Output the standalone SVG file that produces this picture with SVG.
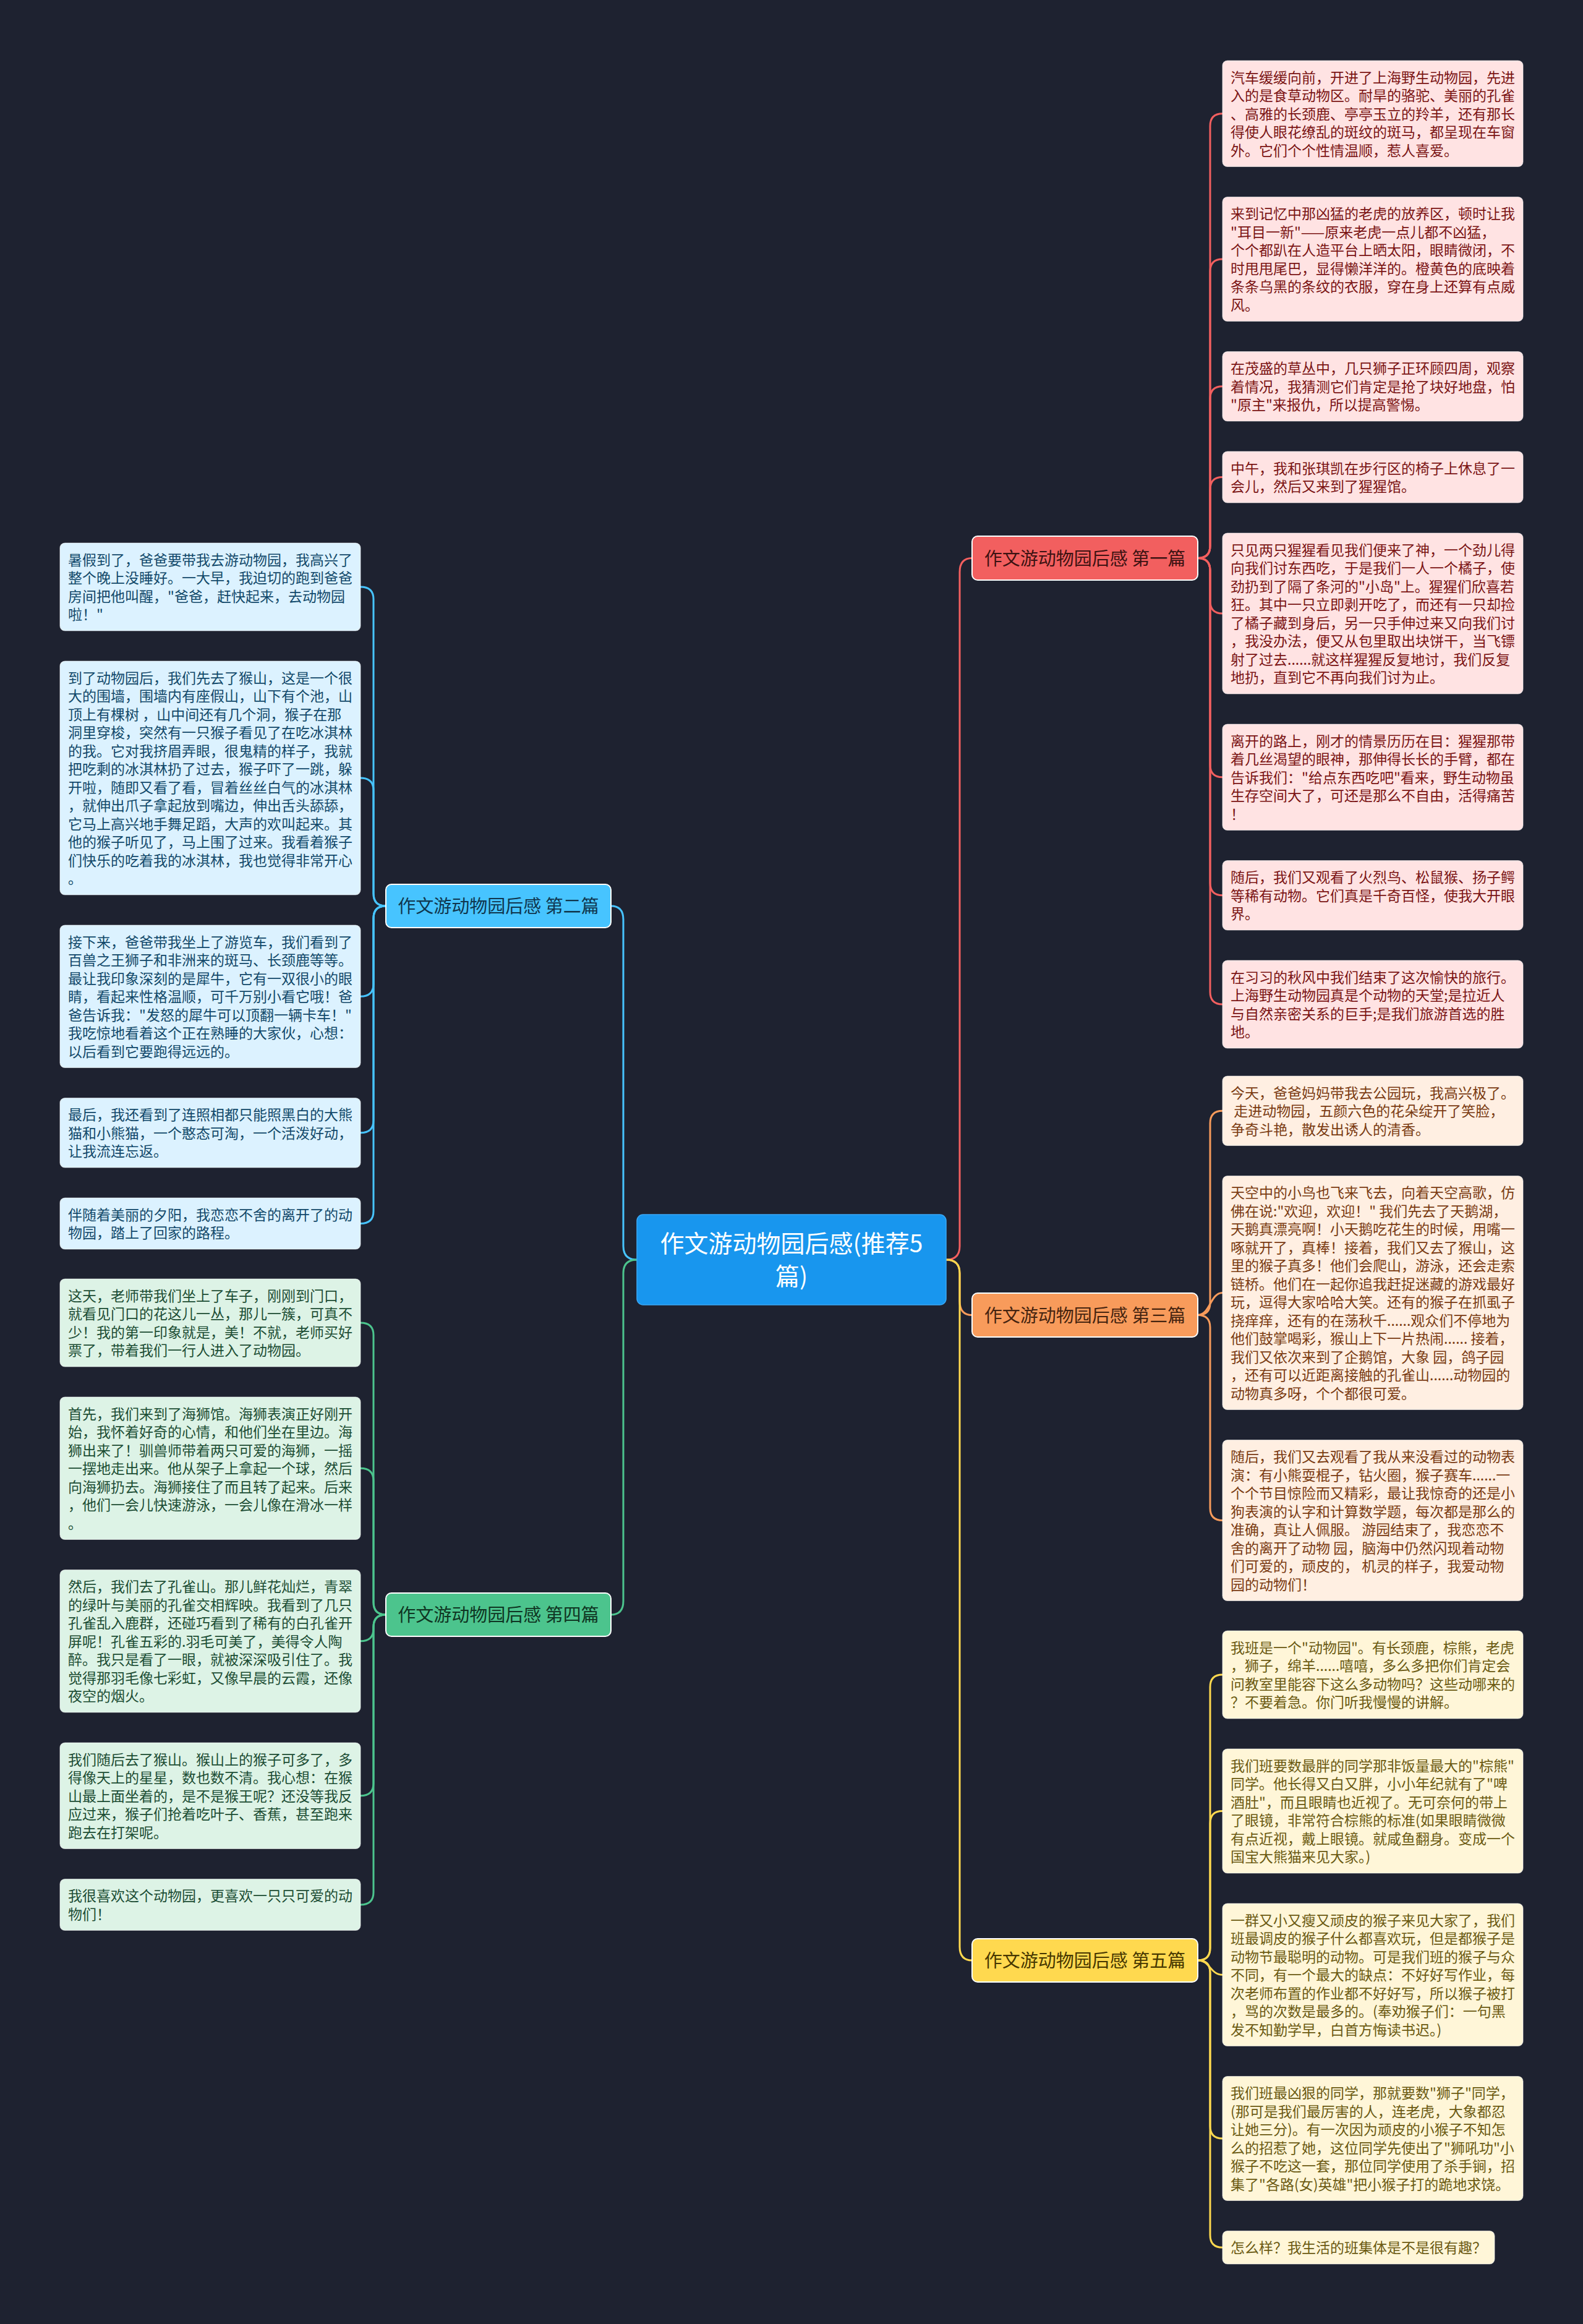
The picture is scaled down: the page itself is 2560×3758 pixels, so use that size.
<svg xmlns="http://www.w3.org/2000/svg" width="2560" height="3758" viewBox="0 0 2560 3758">
<style>
text{font-family:"Noto Sans CJK SC","Noto Sans",sans-serif;white-space:pre}
.lf{font-size:23px}
.leaf{stroke:#ffffff;stroke-opacity:.55;stroke-width:1.2}
.br{stroke:#ffffff;stroke-width:2}
.bt{font-size:29px;text-anchor:middle}
.c{fill:none;stroke-width:3;stroke-linecap:round}
.red{stroke:#f25f5f}.org{stroke:#f89b5b}.yel{stroke:#ffd94f}.blu{stroke:#47c4ff}.grn{stroke:#4cc48d}
.rf{fill:#ffe3e3}.rt{fill:#7b1414}
.of{fill:#ffefe2}.ot{fill:#7a3b12}
.yf{fill:#fff6d8}.yt{fill:#6b5a12}
.bf{fill:#dcf2ff}.btx{fill:#12496a}
.gf{fill:#ddf3e6}.gt{fill:#1c4d34}
</style>
<rect width="2560" height="3758" fill="#1e2230"/>
<g id="connectors">
<path class="c red" d="M1530 2037 Q1552 2037 1552 2015 L1552 925 Q1552 902.5 1572 902.5"/>
<path class="c org" d="M1530 2037 Q1552 2037 1552 2059 L1552 2104 Q1552 2126.5 1572 2126.5"/>
<path class="c yel" d="M1530 2037 Q1552 2037 1552 2059 L1552 3148 Q1552 3170 1572 3170"/>
<path class="c blu" d="M1030 2037 Q1008 2037 1008 2015 L1008 1487 Q1008 1465 988 1465"/>
<path class="c grn" d="M1030 2037 Q1008 2037 1008 2059 L1008 2589 Q1008 2611 988 2611"/>
<path class="c red" d="M1937 902.5 Q1957 902.5 1957 882.5 L1957 203.75 Q1957 183.75 1977 183.75"/>
<path class="c red" d="M1937 902.5 Q1957 902.5 1957 882.5 L1957 439 Q1957 419 1977 419"/>
<path class="c red" d="M1937 902.5 Q1957 902.5 1957 882.5 L1957 644.75 Q1957 624.75 1977 624.75"/>
<path class="c red" d="M1937 902.5 Q1957 902.5 1957 882.5 L1957 791.5 Q1957 771.5 1977 771.5"/>
<path class="c red" d="M1937 902.5 Q1957 902.5 1957 922.5 L1957 972 Q1957 992 1977 992"/>
<path class="c red" d="M1937 902.5 Q1957 902.5 1957 922.5 L1957 1236.75 Q1957 1256.75 1977 1256.75"/>
<path class="c red" d="M1937 902.5 Q1957 902.5 1957 922.5 L1957 1427.75 Q1957 1447.75 1977 1447.75"/>
<path class="c red" d="M1937 902.5 Q1957 902.5 1957 922.5 L1957 1604 Q1957 1624 1977 1624"/>
<path class="c org" d="M1937 2126.5 Q1957 2126.5 1957 2106.5 L1957 1816.25 Q1957 1796.25 1977 1796.25"/>
<path class="c org" d="M1937 2126.5 C1957 2126.5 1957 2090.5 1977 2090.5"/>
<path class="c org" d="M1937 2126.5 Q1957 2126.5 1957 2146.5 L1957 2438.5 Q1957 2458.5 1977 2458.5"/>
<path class="c yel" d="M1937 3170 Q1957 3170 1957 3150 L1957 2728 Q1957 2708 1977 2708"/>
<path class="c yel" d="M1937 3170 Q1957 3170 1957 3150 L1957 2948.5 Q1957 2928.5 1977 2928.5"/>
<path class="c yel" d="M1937 3170 C1957 3170 1957 3193.25 1977 3193.25"/>
<path class="c yel" d="M1937 3170 Q1957 3170 1957 3190 L1957 3438 Q1957 3458 1977 3458"/>
<path class="c yel" d="M1937 3170 Q1957 3170 1957 3190 L1957 3614.25 Q1957 3634.25 1977 3634.25"/>
<path class="c blu" d="M624 1465 Q604 1465 604 1445 L604 969 Q604 949 583 949"/>
<path class="c blu" d="M624 1465 Q604 1465 604 1445 L604 1278 Q604 1258 583 1258"/>
<path class="c blu" d="M624 1465 Q604 1465 604 1485 L604 1591.25 Q604 1611.25 583 1611.25"/>
<path class="c blu" d="M624 1465 Q604 1465 604 1485 L604 1811.75 Q604 1831.75 583 1831.75"/>
<path class="c blu" d="M624 1465 Q604 1465 604 1485 L604 1958.5 Q604 1978.5 583 1978.5"/>
<path class="c grn" d="M624 2611 Q604 2611 604 2591 L604 2159 Q604 2139 583 2139"/>
<path class="c grn" d="M624 2611 Q604 2611 604 2591 L604 2394.25 Q604 2374.25 583 2374.25"/>
<path class="c grn" d="M624 2611 Q604 2611 604 2631 L604 2633.75 Q604 2653.75 583 2653.75"/>
<path class="c grn" d="M624 2611 Q604 2611 604 2631 L604 2883.75 Q604 2903.75 583 2903.75"/>
<path class="c grn" d="M624 2611 Q604 2611 604 2631 L604 3060 Q604 3080 583 3080"/>
</g>
<g id="center">
<rect x="1030" y="1964" width="500" height="146" rx="10" fill="#1896ee" stroke="#3aa8f5" stroke-width="1.5"/>
<text x="1280" y="2025" font-size="39" fill="#ffffff" text-anchor="middle"><tspan x="1280">作文游动物园后感(推荐5</tspan><tspan x="1280" dy="53">篇)</tspan></text>
</g>
<g id="b1"><rect class="br" x="1572" y="867" width="365" height="71" rx="9" fill="#f25f5f"/><text class="bt" x="1754.5" y="913.5" fill="#3d1212">作文游动物园后感 第一篇</text></g>
<g id="b3"><rect class="br" x="1572" y="2091" width="365" height="71" rx="9" fill="#f89b5b"/><text class="bt" x="1754.5" y="2137.5" fill="#452410">作文游动物园后感 第三篇</text></g>
<g id="b5"><rect class="br" x="1572" y="3135" width="365" height="70" rx="9" fill="#ffd94f"/><text class="bt" x="1754.5" y="3181" fill="#463700">作文游动物园后感 第五篇</text></g>
<g id="b2"><rect class="br" x="624" y="1430" width="364" height="70" rx="9" fill="#47c4ff"/><text class="bt" x="806" y="1476" fill="#10364d">作文游动物园后感 第二篇</text></g>
<g id="b4"><rect class="br" x="624" y="2576" width="364" height="70" rx="9" fill="#4cc48d"/><text class="bt" x="806" y="2622" fill="#0f3522">作文游动物园后感 第四篇</text></g>

<g id="r1"><rect class="leaf rf" x="1977" y="98" width="486" height="171.5" rx="8"/><text class="lf rt" x="1990" y="133.5"><tspan x="1990">汽车缓缓向前，开进了上海野生动物园，先进</tspan><tspan x="1990" dy="29.5">入的是食草动物区。耐旱的骆驼、美丽的孔雀</tspan><tspan x="1990" dy="29.5">、高雅的长颈鹿、亭亭玉立的羚羊，还有那长</tspan><tspan x="1990" dy="29.5">得使人眼花缭乱的斑纹的斑马，都呈现在车窗</tspan><tspan x="1990" dy="29.5">外。它们个个性情温顺，惹人喜爱。</tspan></text></g>
<g id="r2"><rect class="leaf rf" x="1977" y="318.5" width="486" height="201" rx="8"/><text class="lf rt" x="1990" y="354"><tspan x="1990">来到记忆中那凶猛的老虎的放养区，顿时让我</tspan><tspan x="1990" dy="29.5">"耳目一新"——原来老虎一点儿都不凶猛，</tspan><tspan x="1990" dy="29.5">个个都趴在人造平台上晒太阳，眼睛微闭，不</tspan><tspan x="1990" dy="29.5">时甩甩尾巴，显得懒洋洋的。橙黄色的底映着</tspan><tspan x="1990" dy="29.5">条条乌黑的条纹的衣服，穿在身上还算有点威</tspan><tspan x="1990" dy="29.5">风。</tspan></text></g>
<g id="r3"><rect class="leaf rf" x="1977" y="568.5" width="486" height="112.5" rx="8"/><text class="lf rt" x="1990" y="604"><tspan x="1990">在茂盛的草丛中，几只狮子正环顾四周，观察</tspan><tspan x="1990" dy="29.5">着情况，我猜测它们肯定是抢了块好地盘，怕</tspan><tspan x="1990" dy="29.5">"原主"来报仇，所以提高警惕。</tspan></text></g>
<g id="r4"><rect class="leaf rf" x="1977" y="730" width="486" height="83" rx="8"/><text class="lf rt" x="1990" y="765.5"><tspan x="1990">中午，我和张琪凯在步行区的椅子上休息了一</tspan><tspan x="1990" dy="29.5">会儿，然后又来到了猩猩馆。</tspan></text></g>
<g id="r5"><rect class="leaf rf" x="1977" y="862" width="486" height="260" rx="8"/><text class="lf rt" x="1990" y="897.5"><tspan x="1990">只见两只猩猩看见我们便来了神，一个劲儿得</tspan><tspan x="1990" dy="29.5">向我们讨东西吃，于是我们一人一个橘子，使</tspan><tspan x="1990" dy="29.5">劲扔到了隔了条河的"小岛"上。猩猩们欣喜若</tspan><tspan x="1990" dy="29.5">狂。其中一只立即剥开吃了，而还有一只却捡</tspan><tspan x="1990" dy="29.5">了橘子藏到身后，另一只手伸过来又向我们讨</tspan><tspan x="1990" dy="29.5">，我没办法，便又从包里取出块饼干，当飞镖</tspan><tspan x="1990" dy="29.5">射了过去......就这样猩猩反复地讨，我们反复</tspan><tspan x="1990" dy="29.5">地扔，直到它不再向我们讨为止。</tspan></text></g>
<g id="r6"><rect class="leaf rf" x="1977" y="1171" width="486" height="171.5" rx="8"/><text class="lf rt" x="1990" y="1206.5"><tspan x="1990">离开的路上，刚才的情景历历在目：猩猩那带</tspan><tspan x="1990" dy="29.5">着几丝渴望的眼神，那伸得长长的手臂，都在</tspan><tspan x="1990" dy="29.5">告诉我们："给点东西吃吧"看来，野生动物虽</tspan><tspan x="1990" dy="29.5">生存空间大了，可还是那么不自由，活得痛苦</tspan><tspan x="1990" dy="29.5">！</tspan></text></g>
<g id="r7"><rect class="leaf rf" x="1977" y="1391.5" width="486" height="112.5" rx="8"/><text class="lf rt" x="1990" y="1427"><tspan x="1990">随后，我们又观看了火烈鸟、松鼠猴、扬子鳄</tspan><tspan x="1990" dy="29.5">等稀有动物。它们真是千奇百怪，使我大开眼</tspan><tspan x="1990" dy="29.5">界。</tspan></text></g>
<g id="r8"><rect class="leaf rf" x="1977" y="1553" width="486" height="142" rx="8"/><text class="lf rt" x="1990" y="1588.5"><tspan x="1990">在习习的秋风中我们结束了这次愉快的旅行。</tspan><tspan x="1990" dy="29.5">上海野生动物园真是个动物的天堂;是拉近人</tspan><tspan x="1990" dy="29.5">与自然亲密关系的巨手;是我们旅游首选的胜</tspan><tspan x="1990" dy="29.5">地。</tspan></text></g>

<g id="o1"><rect class="leaf of" x="1977" y="1740" width="486" height="112.5" rx="8"/><text class="lf ot" x="1990" y="1775.5"><tspan x="1990">今天，爸爸妈妈带我去公园玩，我高兴极了。</tspan><tspan x="1990" dy="29.5"> 走进动物园，五颜六色的花朵绽开了笑脸，</tspan><tspan x="1990" dy="29.5">争奇斗艳，散发出诱人的清香。</tspan></text></g>
<g id="o2"><rect class="leaf of" x="1977" y="1901.5" width="486" height="378" rx="8"/><text class="lf ot" x="1990" y="1937"><tspan x="1990">天空中的小鸟也飞来飞去，向着天空高歌，仿</tspan><tspan x="1990" dy="29.5">佛在说:"欢迎，欢迎！" 我们先去了天鹅湖，</tspan><tspan x="1990" dy="29.5">天鹅真漂亮啊！小天鹅吃花生的时候，用嘴一</tspan><tspan x="1990" dy="29.5">啄就开了，真棒！接着，我们又去了猴山，这</tspan><tspan x="1990" dy="29.5">里的猴子真多！他们会爬山，游泳，还会走索</tspan><tspan x="1990" dy="29.5">链桥。他们在一起你追我赶捉迷藏的游戏最好</tspan><tspan x="1990" dy="29.5">玩，逗得大家哈哈大笑。还有的猴子在抓虱子</tspan><tspan x="1990" dy="29.5">挠痒痒，还有的在荡秋千......观众们不停地为</tspan><tspan x="1990" dy="29.5">他们鼓掌喝彩，猴山上下一片热闹...... 接着，</tspan><tspan x="1990" dy="29.5">我们又依次来到了企鹅馆，大象 园，鸽子园</tspan><tspan x="1990" dy="29.5">，还有可以近距离接触的孔雀山......动物园的</tspan><tspan x="1990" dy="29.5">动物真多呀，个个都很可爱。</tspan></text></g>
<g id="o3"><rect class="leaf of" x="1977" y="2328.5" width="486" height="260" rx="8"/><text class="lf ot" x="1990" y="2364"><tspan x="1990">随后，我们又去观看了我从来没看过的动物表</tspan><tspan x="1990" dy="29.5">演：有小熊耍棍子，钻火圈，猴子赛车......一</tspan><tspan x="1990" dy="29.5">个个节目惊险而又精彩，最让我惊奇的还是小</tspan><tspan x="1990" dy="29.5">狗表演的认字和计算数学题，每次都是那么的</tspan><tspan x="1990" dy="29.5">准确，真让人佩服。 游园结束了，我恋恋不</tspan><tspan x="1990" dy="29.5">舍的离开了动物 园，脑海中仍然闪现着动物</tspan><tspan x="1990" dy="29.5">们可爱的，顽皮的， 机灵的样子，我爱动物</tspan><tspan x="1990" dy="29.5">园的动物们！</tspan></text></g>

<g id="y1"><rect class="leaf yf" x="1977" y="2637" width="486" height="142" rx="8"/><text class="lf yt" x="1990" y="2672.5"><tspan x="1990">我班是一个"动物园"。有长颈鹿，棕熊，老虎</tspan><tspan x="1990" dy="29.5">，狮子，绵羊......嘻嘻，多么多把你们肯定会</tspan><tspan x="1990" dy="29.5">问教室里能容下这么多动物吗？这些动哪来的</tspan><tspan x="1990" dy="29.5">？不要着急。你门听我慢慢的讲解。</tspan></text></g>
<g id="y2"><rect class="leaf yf" x="1977" y="2828" width="486" height="201" rx="8"/><text class="lf yt" x="1990" y="2863.5"><tspan x="1990">我们班要数最胖的同学那非饭量最大的"棕熊"</tspan><tspan x="1990" dy="29.5">同学。他长得又白又胖，小小年纪就有了"啤</tspan><tspan x="1990" dy="29.5">酒肚"，而且眼睛也近视了。无可奈何的带上</tspan><tspan x="1990" dy="29.5">了眼镜，非常符合棕熊的标准(如果眼睛微微</tspan><tspan x="1990" dy="29.5">有点近视，戴上眼镜。就咸鱼翻身。变成一个</tspan><tspan x="1990" dy="29.5">国宝大熊猫来见大家。)</tspan></text></g>
<g id="y3"><rect class="leaf yf" x="1977" y="3078" width="486" height="230.5" rx="8"/><text class="lf yt" x="1990" y="3113.5"><tspan x="1990">一群又小又瘦又顽皮的猴子来见大家了，我们</tspan><tspan x="1990" dy="29.5">班最调皮的猴子什么都喜欢玩，但是都猴子是</tspan><tspan x="1990" dy="29.5">动物节最聪明的动物。可是我们班的猴子与众</tspan><tspan x="1990" dy="29.5">不同，有一个最大的缺点：不好好写作业，每</tspan><tspan x="1990" dy="29.5">次老师布置的作业都不好好写，所以猴子被打</tspan><tspan x="1990" dy="29.5">，骂的次数是最多的。(奉劝猴子们：一句黑</tspan><tspan x="1990" dy="29.5">发不知勤学早，白首方悔读书迟。)</tspan></text></g>
<g id="y4"><rect class="leaf yf" x="1977" y="3357.5" width="486" height="201" rx="8"/><text class="lf yt" x="1990" y="3393"><tspan x="1990">我们班最凶狠的同学，那就要数"狮子"同学，</tspan><tspan x="1990" dy="29.5">(那可是我们最厉害的人，连老虎，大象都忍</tspan><tspan x="1990" dy="29.5">让她三分)。有一次因为顽皮的小猴子不知怎</tspan><tspan x="1990" dy="29.5">么的招惹了她，这位同学先使出了"狮吼功"小</tspan><tspan x="1990" dy="29.5">猴子不吃这一套，那位同学使用了杀手锏，招</tspan><tspan x="1990" dy="29.5">集了"各路(女)英雄"把小猴子打的跪地求饶。</tspan></text></g>
<g id="y5"><rect class="leaf yf" x="1977" y="3607.5" width="440" height="53.5" rx="8"/><text class="lf yt" x="1990" y="3643">怎么样？我生活的班集体是不是很有趣？</text></g>

<g id="l1"><rect class="leaf bf" x="97" y="878" width="486" height="142" rx="8"/><text class="lf btx" x="110" y="913.5"><tspan x="110">暑假到了，爸爸要带我去游动物园，我高兴了</tspan><tspan x="110" dy="29.5">整个晚上没睡好。一大早，我迫切的跑到爸爸</tspan><tspan x="110" dy="29.5">房间把他叫醒，"爸爸，赶快起来，去动物园</tspan><tspan x="110" dy="29.5">啦！"</tspan></text></g>
<g id="l2"><rect class="leaf bf" x="97" y="1069" width="486" height="378" rx="8"/><text class="lf btx" x="110" y="1104.5"><tspan x="110">到了动物园后，我们先去了猴山，这是一个很</tspan><tspan x="110" dy="29.5">大的围墙，围墙内有座假山，山下有个池，山</tspan><tspan x="110" dy="29.5">顶上有棵树 ，山中间还有几个洞，猴子在那</tspan><tspan x="110" dy="29.5">洞里穿梭，突然有一只猴子看见了在吃冰淇林</tspan><tspan x="110" dy="29.5">的我。它对我挤眉弄眼，很鬼精的样子，我就</tspan><tspan x="110" dy="29.5">把吃剩的冰淇林扔了过去，猴子吓了一跳，躲</tspan><tspan x="110" dy="29.5">开啦，随即又看了看，冒着丝丝白气的冰淇林</tspan><tspan x="110" dy="29.5">，就伸出爪子拿起放到嘴边，伸出舌头舔舔，</tspan><tspan x="110" dy="29.5">它马上高兴地手舞足蹈，大声的欢叫起来。其</tspan><tspan x="110" dy="29.5">他的猴子听见了，马上围了过来。我看着猴子</tspan><tspan x="110" dy="29.5">们快乐的吃着我的冰淇林，我也觉得非常开心</tspan><tspan x="110" dy="29.5">。</tspan></text></g>
<g id="l3"><rect class="leaf bf" x="97" y="1496" width="486" height="230.5" rx="8"/><text class="lf btx" x="110" y="1531.5"><tspan x="110">接下来，爸爸带我坐上了游览车，我们看到了</tspan><tspan x="110" dy="29.5">百兽之王狮子和非洲来的斑马、长颈鹿等等。</tspan><tspan x="110" dy="29.5">最让我印象深刻的是犀牛，它有一双很小的眼</tspan><tspan x="110" dy="29.5">睛，看起来性格温顺，可千万别小看它哦！爸</tspan><tspan x="110" dy="29.5">爸告诉我："发怒的犀牛可以顶翻一辆卡车！"</tspan><tspan x="110" dy="29.5">我吃惊地看着这个正在熟睡的大家伙，心想：</tspan><tspan x="110" dy="29.5">以后看到它要跑得远远的。</tspan></text></g>
<g id="l4"><rect class="leaf bf" x="97" y="1775.5" width="486" height="112.5" rx="8"/><text class="lf btx" x="110" y="1811"><tspan x="110">最后，我还看到了连照相都只能照黑白的大熊</tspan><tspan x="110" dy="29.5">猫和小熊猫，一个憨态可淘，一个活泼好动，</tspan><tspan x="110" dy="29.5">让我流连忘返。</tspan></text></g>
<g id="l5"><rect class="leaf bf" x="97" y="1937" width="486" height="83" rx="8"/><text class="lf btx" x="110" y="1972.5"><tspan x="110">伴随着美丽的夕阳，我恋恋不舍的离开了的动</tspan><tspan x="110" dy="29.5">物园，踏上了回家的路程。</tspan></text></g>

<g id="g1"><rect class="leaf gf" x="97" y="2068" width="486" height="142" rx="8"/><text class="lf gt" x="110" y="2103.5"><tspan x="110">这天，老师带我们坐上了车子，刚刚到门口，</tspan><tspan x="110" dy="29.5">就看见门口的花这儿一丛，那儿一簇，可真不</tspan><tspan x="110" dy="29.5">少！我的第一印象就是，美！不就，老师买好</tspan><tspan x="110" dy="29.5">票了，带着我们一行人进入了动物园。</tspan></text></g>
<g id="g2"><rect class="leaf gf" x="97" y="2259" width="486" height="230.5" rx="8"/><text class="lf gt" x="110" y="2294.5"><tspan x="110">首先，我们来到了海狮馆。海狮表演正好刚开</tspan><tspan x="110" dy="29.5">始，我怀着好奇的心情，和他们坐在里边。海</tspan><tspan x="110" dy="29.5">狮出来了！驯兽师带着两只可爱的海狮，一摇</tspan><tspan x="110" dy="29.5">一摆地走出来。他从架子上拿起一个球，然后</tspan><tspan x="110" dy="29.5">向海狮扔去。海狮接住了而且转了起来。后来</tspan><tspan x="110" dy="29.5">，他们一会儿快速游泳，一会儿像在滑冰一样</tspan><tspan x="110" dy="29.5">。</tspan></text></g>
<g id="g3"><rect class="leaf gf" x="97" y="2538.5" width="486" height="230.5" rx="8"/><text class="lf gt" x="110" y="2574"><tspan x="110">然后，我们去了孔雀山。那儿鲜花灿烂，青翠</tspan><tspan x="110" dy="29.5">的绿叶与美丽的孔雀交相辉映。我看到了几只</tspan><tspan x="110" dy="29.5">孔雀乱入鹿群，还碰巧看到了稀有的白孔雀开</tspan><tspan x="110" dy="29.5">屏呢！孔雀五彩的.羽毛可美了，美得令人陶</tspan><tspan x="110" dy="29.5">醉。我只是看了一眼，就被深深吸引住了。我</tspan><tspan x="110" dy="29.5">觉得那羽毛像七彩虹，又像早晨的云霞，还像</tspan><tspan x="110" dy="29.5">夜空的烟火。</tspan></text></g>
<g id="g4"><rect class="leaf gf" x="97" y="2818" width="486" height="171.5" rx="8"/><text class="lf gt" x="110" y="2853.5"><tspan x="110">我们随后去了猴山。猴山上的猴子可多了，多</tspan><tspan x="110" dy="29.5">得像天上的星星，数也数不清。我心想：在猴</tspan><tspan x="110" dy="29.5">山最上面坐着的，是不是猴王呢？还没等我反</tspan><tspan x="110" dy="29.5">应过来，猴子们抢着吃叶子、香蕉，甚至跑来</tspan><tspan x="110" dy="29.5">跑去在打架呢。</tspan></text></g>
<g id="g5"><rect class="leaf gf" x="97" y="3038.5" width="486" height="83" rx="8"/><text class="lf gt" x="110" y="3074"><tspan x="110">我很喜欢这个动物园，更喜欢一只只可爱的动</tspan><tspan x="110" dy="29.5">物们！</tspan></text></g>
</svg>
